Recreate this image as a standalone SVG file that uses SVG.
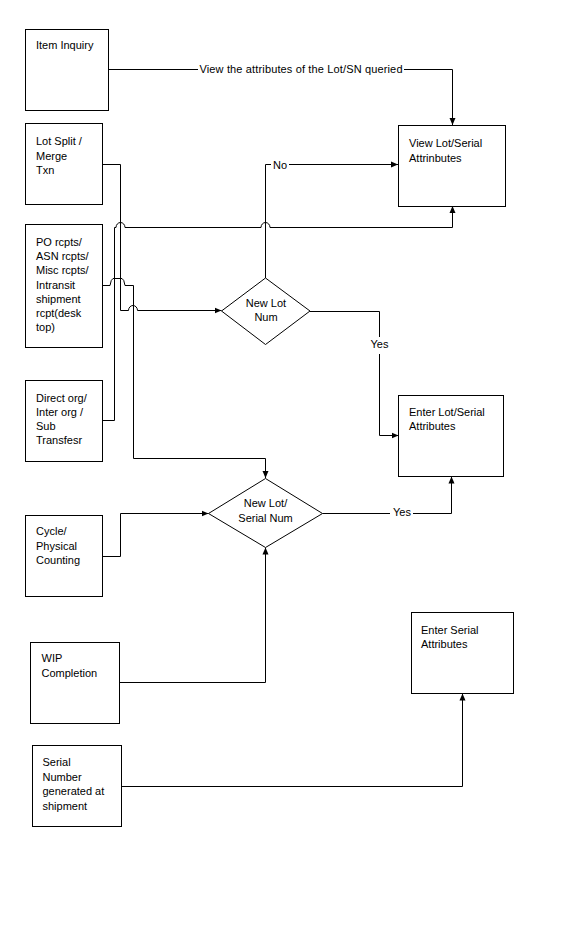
<svg xmlns="http://www.w3.org/2000/svg" width="586" height="948" viewBox="0 0 586 948">
<defs>
<style>
.box{fill:#fff;stroke:#000;stroke-width:1}
.c{fill:none;stroke:#000;stroke-width:1}
text{font-family:"Liberation Sans",Arial,sans-serif;font-size:11px;fill:#000}
.m{text-anchor:middle}
</style>
<marker id="ah" markerWidth="7" markerHeight="7" refX="7" refY="3.5" orient="auto" markerUnits="userSpaceOnUse">
<path d="M0,0.5 L7,3.5 L0,6.5 z" fill="#000"/>
</marker>
</defs>
<rect width="586" height="948" fill="#fff"/>
<g id="connectors">
<path class="c" d="M109,69.5 H198"/>
<text x="199.5" y="73" textLength="203" lengthAdjust="spacing">View the attributes of the Lot/SN queried</text>
<path class="c" d="M404,69.5 H452.5 V125" marker-end="url(#ah)"/>
<path class="c" d="M265.5,278 V164.5 H271"/>
<text x="273" y="169">No</text>
<path class="c" d="M289,164.5 H398" marker-end="url(#ah)"/>
<path class="c" d="M102,164.5 H120.5 V310.5 H128.5 A4.5 5 0 0 1 137.5 310.5 H221.5" marker-end="url(#ah)"/>
<path class="c" d="M102,420.5 H114.5 V227.5 H116 A4.5 5 0 0 1 125 227.5 H261 A4.5 5 0 0 1 270 227.5 H452.5 V206" marker-end="url(#ah)"/>
<path class="c" d="M102,285.5 H110 Q111,279 113,278.5 H122 Q124,279 125,285.5 H133.5 V458.5 H265.5 V478" marker-end="url(#ah)"/>
<path class="c" d="M310,311.5 H379.5 V337"/>
<text class="m" x="379.5" y="348">Yes</text>
<path class="c" d="M379.5,354 V435.5 H398.5" marker-end="url(#ah)"/>
<path class="c" d="M322.5,513.5 H390"/>
<text class="m" x="402" y="516">Yes</text>
<path class="c" d="M413,513.5 H451.5 V476.5" marker-end="url(#ah)"/>
<path class="c" d="M102,556.5 H120.5 V513.5 H208.5" marker-end="url(#ah)"/>
<path class="c" d="M119,682.5 H265.5 V547.5" marker-end="url(#ah)"/>
<path class="c" d="M121,786.5 H462.5 V693.5" marker-end="url(#ah)"/>
</g>
<g id="item-inquiry">
<rect class="box" x="25.5" y="29.5" width="83" height="81"/>
<text x="36" y="49">Item Inquiry</text>
</g>
<g id="lot-split">
<rect class="box" x="25.5" y="123.5" width="77" height="81"/>
<text x="36" y="145">Lot Split /</text>
<text x="36" y="159.5">Merge</text>
<text x="36" y="174">Txn</text>
</g>
<g id="view-attributes">
<rect class="box" x="398.5" y="125.5" width="107" height="81"/>
<text x="409" y="147">View Lot/Serial</text>
<text x="409" y="161.5">Attrinbutes</text>
</g>
<g id="po-rcpts">
<rect class="box" x="25.5" y="224.5" width="77" height="123"/>
<text x="36" y="246">PO rcpts/</text>
<text x="36" y="260.2">ASN rcpts/</text>
<text x="36" y="274.4">Misc rcpts/</text>
<text x="36" y="288.6">Intransit</text>
<text x="36" y="302.8">shipment</text>
<text x="36" y="317">rcpt(desk</text>
<text x="36" y="331.2">top)</text>
</g>
<g id="new-lot-num">
<polygon class="box" points="221.5,311 265.5,278 310,311 265.5,344.5"/>
<text class="m" x="266" y="306.5">New Lot</text>
<text class="m" x="266" y="321">Num</text>
</g>
<g id="direct-org">
<rect class="box" x="25.5" y="380.5" width="77" height="81"/>
<text x="36" y="401.7">Direct org/</text>
<text x="36" y="415.9">Inter org /</text>
<text x="36" y="430.1">Sub</text>
<text x="36" y="444.3">Transfesr</text>
</g>
<g id="enter-lot-serial">
<rect class="box" x="398.5" y="395.5" width="105" height="81"/>
<text x="409" y="415.7">Enter Lot/Serial</text>
<text x="409" y="430">Attributes</text>
</g>
<g id="new-lot-serial-num">
<polygon class="box" points="208.5,513.5 265.5,478.5 322.5,513.5 265.5,547.5"/>
<text class="m" x="265.5" y="507">New Lot/</text>
<text class="m" x="265.5" y="522">Serial Num</text>
</g>
<g id="cycle-counting">
<rect class="box" x="25.5" y="515.5" width="77" height="81"/>
<text x="36" y="535">Cycle/</text>
<text x="36" y="549.5">Physical</text>
<text x="36" y="564">Counting</text>
</g>
<g id="wip-completion">
<rect class="box" x="30.5" y="642.5" width="89" height="81"/>
<text x="41.5" y="662">WIP</text>
<text x="41.5" y="676.5">Completion</text>
</g>
<g id="enter-serial">
<rect class="box" x="411.5" y="612.5" width="102" height="81"/>
<text x="421" y="634">Enter Serial</text>
<text x="421" y="648">Attributes</text>
</g>
<g id="serial-shipment">
<rect class="box" x="32.5" y="745.5" width="89" height="81"/>
<text x="42.5" y="766">Serial</text>
<text x="42.5" y="780.5">Number</text>
<text x="42.5" y="795">generated at</text>
<text x="42.5" y="809.5">shipment</text>
</g>
</svg>
